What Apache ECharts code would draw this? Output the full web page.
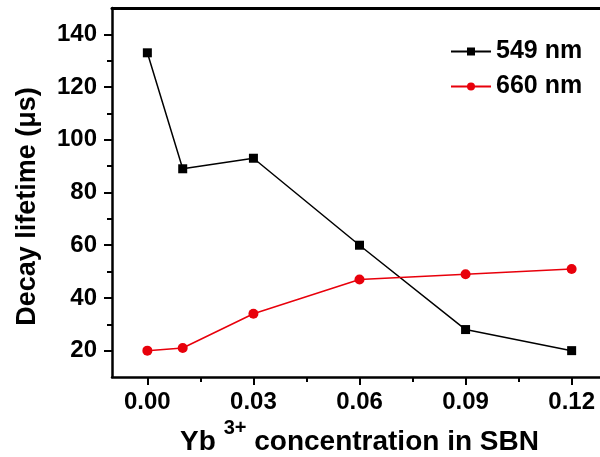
<!DOCTYPE html>
<html>
<head>
<meta charset="utf-8">
<script src="https://cdn.jsdelivr.net/npm/echarts@6/dist/echarts.min.js"></script>
<style>
  html, body { margin: 0; padding: 0; background: #fff; }
  #main { width: 600px; height: 457px; }
</style>
</head>
<body>
<div id="main"></div>
<script>
var conc = [0.00, 0.01, 0.03, 0.06, 0.09, 0.12];
var nm549 = [133, 89, 93, 60, 28, 20];
var nm660 = [20, 21, 34, 47, 49, 51];
var xMajor = [0.00, 0.03, 0.06, 0.09, 0.12];
var xMinor = [0.015, 0.045, 0.075, 0.105];
var yMajor = [20, 40, 60, 80, 100, 120, 140];
var yMinor = [30, 50, 70, 90, 110, 130];

var font = 'Liberation Sans, Arial, sans-serif';

function pairs(xs, ys) {
    return xs.map(function (x, i) { return [x, ys[i]]; });
}

var myChart = echarts.init(document.getElementById('main'));

var option = {
    animation: false,
    backgroundColor: '#fff',
    grid: {
        left: 112, top: 8, width: 495, height: 369,
        outerBoundsMode: 'none',
        containLabel: false
    },
    legend: {
        orient: 'vertical',
        left: 445, top: 34,
        itemGap: 10,
        itemWidth: 40, itemHeight: 10,
        textStyle: { fontFamily: font, fontWeight: 'bold', fontSize: 25, color: '#000', padding: [0, 0, 0, 0] },
        data: ['549 nm', '660 nm']
    },
    xAxis: [
        {
            type: 'value', min: -0.01, max: 0.13,
            name: '{n|Yb }{s|3+}{n| concentration in SBN}',
            nameLocation: 'middle', nameGap: 40,
            nameTextStyle: {
                rich: {
                    n: { fontFamily: font, fontWeight: 'bold', fontSize: 28, color: '#000', lineHeight: 31, verticalAlign: 'bottom' },
                    s: { fontFamily: font, fontWeight: 'bold', fontSize: 20, color: '#000', lineHeight: 20, verticalAlign: 'bottom', padding: [0, 0, 17, 0] }
                }
            },
            axisLine: { onZero: false, lineStyle: { color: '#000', width: 2.5 } },
            axisTick: { show: true, inside: false, length: 8, customValues: xMajor, lineStyle: { color: '#000', width: 2 } },
            axisLabel: {
                customValues: xMajor, margin: 13,
                fontFamily: font, fontWeight: 'bold', fontSize: 24, color: '#000',
                formatter: function (v) { return v.toFixed(2); }
            },
            splitLine: { show: false }
        },
        {
            type: 'value', min: -0.01, max: 0.13, position: 'bottom',
            axisLine: { show: false, onZero: false },
            axisTick: { show: true, inside: false, length: 5, customValues: xMinor, lineStyle: { color: '#000', width: 2 } },
            axisLabel: { show: false },
            splitLine: { show: false }
        },
        {
            type: 'value', min: -0.01, max: 0.13, position: 'top',
            axisLine: { show: true, onZero: false, lineStyle: { color: '#000', width: 3 } },
            axisTick: { show: false },
            axisLabel: { show: false },
            splitLine: { show: false }
        }
    ],
    yAxis: [
        {
            type: 'value', min: 10, max: 150,
            name: 'Decay lifetime (μs)',
            nameLocation: 'middle', nameGap: 71,
            nameTextStyle: { fontFamily: font, fontWeight: 'bold', fontSize: 27, color: '#000', padding: [0, 28, 0, 0] },
            axisLine: { onZero: false, lineStyle: { color: '#000', width: 2.5 } },
            axisTick: { show: true, inside: false, length: 8, customValues: yMajor, lineStyle: { color: '#000', width: 2 } },
            axisLabel: {
                customValues: yMajor, margin: 15,
                fontFamily: font, fontWeight: 'bold', fontSize: 24, color: '#000'
            },
            splitLine: { show: false }
        },
        {
            type: 'value', min: 10, max: 150, position: 'left',
            axisLine: { show: false, onZero: false },
            axisTick: { show: true, inside: false, length: 5, customValues: yMinor, lineStyle: { color: '#000', width: 2 } },
            axisLabel: { show: false },
            splitLine: { show: false }
        }
    ],
    series: [
        {
            name: '549 nm', type: 'line',
            data: pairs(conc, nm549),
            symbol: 'rect', symbolSize: 9,
            itemStyle: { color: '#000' },
            lineStyle: { color: '#000', width: 1.5 }
        },
        {
            name: '660 nm', type: 'line',
            data: pairs(conc, nm660),
            symbol: 'circle', symbolSize: 10,
            itemStyle: { color: '#e8000b' },
            lineStyle: { color: '#e8000b', width: 1.5 }
        }
    ]
};

myChart.setOption(option);
</script>
</body>
</html>
